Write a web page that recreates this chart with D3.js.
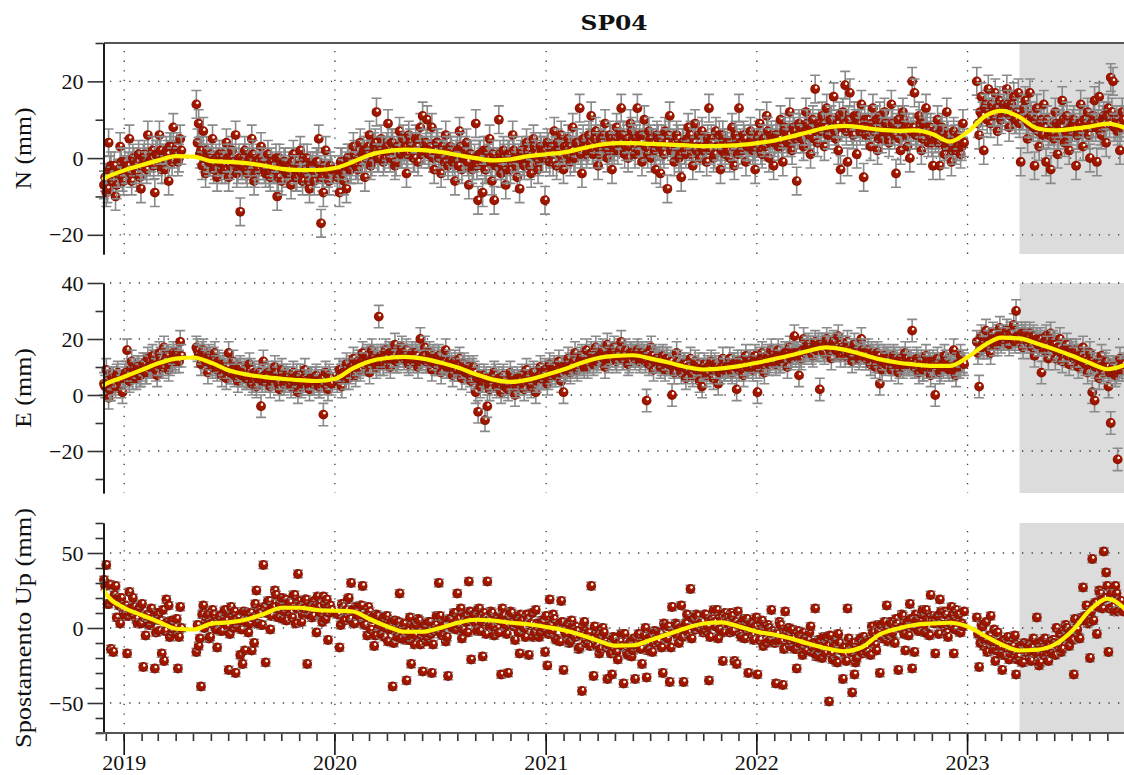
<!DOCTYPE html>
<html>
<head>
<meta charset="utf-8">
<script src="https://cdn.jsdelivr.net/npm/d3@7"></script>
<style>
  html, body { margin: 0; padding: 0; background: #ffffff; }
  svg { display: block; }
</style>
</head>
<body>
<svg id="chart" width="1124" height="775"></svg>
<script>
// ---------------- data ----------------
const title = "SP04";
const xDomain = ["2018-11-27", "2023-09-29"];
const shadeStart = "2023-04-01";
const yearTicks = [2019, 2020, 2021, 2022, 2023];
const sampleStartA = "2018-11-27";   // series A: days 0, 4, 8, ...
const sampleStartB = "2018-11-29";   // series B: days 2, 6, 10, ...
const sampleStepDays = 4;            // null = no data

const sigmaN = 3.6, sigmaE = 4.0, sigmaU = 2.5;

const yDomainN = [-25, 30], majorTicksN = [-20, 0, 20], minorTicksN = [-10, 10, 30];
const yDomainE = [-35, 40], majorTicksE = [-20, 0, 20, 40], minorTicksE = [-30, -10, 10, 30];
const yDomainU = [-70, 70], majorTicksU = [-50, 0, 50], minorTicksU = [-70, -60, -40, -30, -20, -10, 10, 20, 30, 40, 60, 70];

const valuesN = [
  -7, -9, 4, -2, -6, -10, -4, 3, -5, -1,
  -3, 5, -6, -1, -4, 1, -8, 0, -2, 6,
  -1, 2, -9, 1, 6, -3, 0, 2, -6, 3,
  8, 2, -1, 5, null, null, null, null, null, null,
  14, 9, 2, 7, -4, 0, -1, 5, -2, -5,
  1, -3, -2, 4, -5, 0, -1, 6, -3, -14,
  -2, 2, -4, 0, 5, -6, -1, -3, 3, -2,
  -4, 1, -5, -2, -3, -10, 0, -6, -1, -4,
  -2, -7, 1, -5, -3, 2, -6, -4, 0, -8,
  -3, -6, -1, 5, -17, -9, 2, -4, -2, null,
  null, -5, -9, -1, -6, -8, 0, -3, 3, -2,
  -3, 4, 1, -5, 2, 6, -1, 3, 12, 0,
  5, -1, 2, 9, 0, 4, -2, 3, 7, 1,
  2, -4, 6, 3, 0, 5, -1, 8, 11, 2,
  10, 1, 8, -3, 4, 0, -4, 2, 6, -2,
  3, -1, -6, 2, 7, -3, 0, 4, -7, 1,
  -2, 9, -11, 1, -9, -3, 2, 5, -6, -11,
  -1, 10, -4, 2, -7, 1, -3, 6, 0, -5,
  -8, 2, -2, 4, 0, -4, 5, 1, -3, 3,
  0, -11, 4, -1, 3, 7, -2, 2, 6, -3,
  2, 5, -1, 8, 0, 4, 13, -4, 3, 1,
  6, 11, 1, 7, -2, 5, 3, 9, 0, 6,
  -3, 2, 8, 4, 13, 6, 3, 0, 9, 5,
  1, 13, 6, -1, 10, 3, 7, 0, 4, -3,
  5, -4, 2, 7, -8, 11, 3, -1, 6, 0,
  -5, 4, 1, 8, 6, -2, 9, 3, 0, 7,
  2, -1, 13, 5, 0, 7, 3, -3, 6, 1,
  4, 0, 8, -2, 5, 13, 2, 6, -1, 3,
  7, 2, -3, 5, 9, 1, 4, 11, 0, 6,
  -2, 6, 3, 10, -1, 8, 4, 12, 2, 7,
  -6, 9, 5, 3, 12, 7, 1, 10, 18, 4,
  8, 11, 3, 13, 6, 10, 16, 5, 2, -3,
  12, 19, -1, 17, 7, 11, 1, 9, 14, -5,
  6, 10, 3, 13, 8, 2, 11, 5, 12, 9,
  4, 14, 7, -4, 10, 2, 12, 8, 3, 0,
  20, 17, 6, 11, 2, 9, 13, 4, 8, -2,
  5, 10, -2, 8, 1, 12, 4, -1, 7, 2,
  6, 1, 9, null, null, null, null, null, 20, 6,
  16, 2, 14, 18, 9, 12, 17, 7, 15, 11,
  13, 18, 8, 14, 16, 10, 17, -1, 11, 15,
  5, 17, 9, -2, 13, 3, 10, 14, -1, 6,
  -3, 8, 12, 1, 9, 15, 4, 11, 2, 7,
  10, -2, 6, 14, 3, 9, 12, 0, 8, 15,
  -1, 16, 6, 11, 4, 13, 21, 20, 8, 7,
  2, 12
];
const valuesNmid = [
  -5, -8, -3, -6, -2, -7, -4, -1, -6, -3,
  -2, -4, 0, -3, -1, -5, -2, 1, -3, -1,
  0, -2, 1, -1, 2, 0, -3, 1, 3, -1,
  1, 3, 0, 2, null, null, null, null, null, null,
  4, 1, -2, 0, 2, -1, 1, -3, 0, -1,
  -1, 1, -3, 0, -2, 2, -1, -4, 0, -2,
  0, -3, -1, -2, 1, -4, -2, 0, -1, -3,
  -2, -4, -1, -3, 0, -5, -2, -3, -1, -4,
  -4, -1, -3, -5, -2, -4, 0, -3, -6, -2,
  -2, -4, -1, -3, -5, -2, -4, -6, -3, null,
  null, -3, -1, -4, -2, 0, -3, -1, 1, -2,
  0, -1, 2, 0, 3, -2, 1, 4, 0, 2,
  2, 0, 3, 1, 4, 2, -1, 3, 1, 5,
  3, 1, 4, 2, 0, 3, 5, 1, 2, 4,
  1, 3, 0, 2, 4, 1, 3, -1, 2, 0,
  2, 0, 1, -2, 3, 0, 2, -1, 1, -3,
  0, -2, 1, -1, 2, -3, 0, -1, 1, -2,
  -1, 1, -2, 0, -3, 1, -1, 2, -2, 0,
  1, -1, 0, 2, -2, 1, 3, 0, -1, 2,
  2, 0, 3, 1, -1, 2, 4, 1, 0, 3,
  1, 3, 2, 0, 4, 2, 1, 5, 3, 2,
  4, 2, 5, 3, 1, 4, 6, 3, 2, 5,
  3, 5, 2, 6, 4, 1, 5, 3, 7, 4,
  5, 2, 4, 6, 3, 1, 5, 4, 2, 6,
  3, 5, 1, 4, 6, 2, 4, 3, 5, 1,
  4, 2, 5, 3, 1, 4, 2, 6, 3, 2,
  3, 5, 2, 4, 1, 3, 6, 2, 4, 3,
  2, 4, 3, 6, 1, 4, 2, 5, 3, 4,
  5, 3, 4, 6, 2, 5, 3, 7, 4, 5,
  4, 6, 5, 3, 7, 5, 6, 4, 8, 5,
  6, 8, 5, 7, 9, 6, 8, 5, 7, 9,
  7, 9, 8, 6, 10, 8, 7, 9, 11, 8,
  9, 7, 10, 8, 6, 9, 11, 7, 8, 10,
  8, 6, 9, 7, 10, 5, 8, 7, 9, 6,
  7, 9, 6, 8, 5, 7, 10, 6, 8, 7,
  8, 6, 7, 9, 5, 7, 8, 6, 4, 7,
  6, 4, 7, 5, 3, 6, 4, 2, 5, 3,
  5, 3, 4, null, null, null, null, null, 9, 12,
  11, 13, 10, 12, 14, 11, 13, 12, 10, 14,
  12, 14, 11, 13, 10, 12, 9, 11, 13, 10,
  9, 11, 8, 10, 7, 9, 6, 8, 10, 7,
  7, 5, 9, 6, 8, 10, 7, 5, 8, 9,
  8, 6, 9, 7, 10, 8, 6, 9, 11, 8,
  9, 7, 10, 8, 11, 9, 12, 8, 10, 9,
  8, 10
];

const valuesE = [
  4, 9, -1, 2, 6, 3, 8, 5, 1, 7,
  16, 5, 12, 9, 6, 10, 7, 11, 8, 13,
  10, 14, 12, 7, 15, 11, 17, 13, 9, 12,
  15, 12, 14, 19, null, null, null, null, null, null,
  17, 14, 11, 16, 12, 8, 13, 10, 15, 9,
  11, 7, 10, 6, 15, 8, 12, 9, 5, 10,
  7, 9, 6, 11, 4, 8, 3, 7, -4, 12,
  5, 8, 3, 7, 10, 6, 2, 9, 4, 7,
  6, 3, 8, 5, 1, 7, 4, 9, 5, 2,
  6, 4, 7, 3, 5, -7, 8, 2, 6, null,
  null, 5, 9, 3, 8, 11, 6, 10, 13, 7,
  12, 9, 15, 11, 14, 8, 16, 13, 10, 28,
  14, 11, 16, 13, 10, 15, 18, 12, 14, 17,
  13, 16, 11, 14, 12, 15, 10, 20, 13, 17,
  12, 15, 9, 13, 11, 14, 8, 12, 16, 10,
  10, 7, 12, 9, 13, 6, 11, 8, 10, 5,
  10, 1, -6, 3, 5, -9, -4, 2, 5, 8,
  3, 6, 1, 7, 4, 2, 8, 5, 0, 6,
  4, 7, 2, 9, 5, 3, 8, 1, 6, 10,
  6, 9, 4, 11, 7, 10, 8, 12, 5, 1,
  10, 13, 8, 11, 15, 9, 12, 14, 10, 16,
  12, 15, 11, 17, 13, 14, 16, 10, 18, 13,
  14, 17, 12, 15, 19, 13, 16, 11, 15, 14,
  13, 16, 12, 15, 14, -2, 11, 17, 9, 13,
  12, 10, 14, 9, 13, 11, 0, 8, 15, 10,
  8, 11, 6, 10, 13, 7, 12, 9, 5, 3,
  11, 7, 9, 12, 6, 10, 4, 8, 13, 9,
  10, 13, 8, 11, 2, 9, 12, 7, 14, 10,
  12, 9, 14, 1, 10, 15, 8, 13, 11, 16,
  14, 11, 16, 12, 13, 15, 10, 17, 14, 21,
  15, 7, 13, 20, 16, 18, 17, 14, 19, 16,
  2, 18, 15, 20, 17, 13, 19, 16, 21, 14,
  17, 14, 19, 15, 12, 18, 16, 13, 20, 15,
  13, 16, 11, 14, 10, 15, 4, 9, 14, 13,
  12, 9, 14, 11, 8, 13, 10, 15, 11, 12,
  23, 10, 13, 8, 12, 9, 14, 11, 7, 12,
  0, 13, 8, 11, 14, 12, 9, 10, 16, 7,
  10, 14, 12, null, null, null, null, null, 19, 3,
  21, 17, 23, 19, 15, 22, 20, 18, 24, 21,
  20, 23, 18, 22, 25, 30, 21, 19, 17, 22,
  19, 22, 17, 14, 20, 18, 8, 16, 21, 13,
  22, 19, 13, 17, 20, 12, 15, 18, 11, 16,
  13, 16, 10, 14, 17, 11, 8, 15, 1, -2,
  11, 6, 14, 8, 12, 3, -10, 10, 7, -23,
  13, 9
];
const valuesEmid = [
  3, 5, 2, 6, 4, 7, 5, 3, 6, 8,
  7, 9, 6, 8, 10, 7, 9, 11, 8, 10,
  10, 12, 9, 11, 13, 10, 12, 14, 11, 13,
  13, 15, 12, 14, null, null, null, null, null, null,
  16, 14, 15, 13, 12, 14, 11, 13, 10, 12,
  10, 11, 9, 10, 8, 9, 7, 8, 9, 7,
  8, 6, 7, 9, 5, 7, 6, 8, 5, 7,
  6, 7, 5, 6, 8, 4, 6, 7, 5, 6,
  5, 6, 4, 7, 5, 3, 6, 5, 4, 6,
  4, 6, 5, 3, 6, 4, 5, 7, 4, null,
  null, 6, 7, 8, 6, 9, 8, 10, 9, 11,
  10, 12, 11, 13, 11, 12, 14, 12, 13, 11,
  13, 14, 12, 15, 13, 14, 12, 13, 15, 14,
  14, 12, 13, 15, 13, 14, 12, 13, 14, 12,
  13, 12, 14, 11, 13, 12, 11, 12, 10, 12,
  11, 9, 10, 11, 9, 10, 8, 9, 7, 9,
  8, 6, 7, 5, 7, 6, 4, 6, 5, 7,
  5, 4, 6, 3, 5, 4, 6, 5, 3, 5,
  5, 4, 6, 5, 7, 4, 6, 5, 7, 6,
  7, 8, 6, 8, 9, 7, 9, 8, 10, 9,
  9, 11, 10, 12, 10, 11, 13, 11, 12, 10,
  12, 14, 13, 12, 14, 15, 13, 14, 12, 15,
  15, 13, 14, 16, 13, 15, 14, 12, 15, 14,
  14, 15, 13, 14, 12, 15, 13, 14, 12, 13,
  13, 11, 12, 13, 11, 12, 10, 11, 12, 10,
  10, 11, 9, 10, 8, 10, 9, 11, 8, 9,
  9, 10, 8, 9, 11, 9, 8, 10, 9, 10,
  10, 9, 11, 10, 12, 10, 9, 11, 10, 12,
  11, 12, 10, 12, 13, 11, 12, 14, 12, 13,
  13, 14, 12, 14, 13, 15, 14, 13, 15, 14,
  15, 14, 16, 15, 17, 16, 15, 17, 16, 18,
  17, 16, 18, 17, 16, 18, 17, 16, 18, 17,
  16, 17, 15, 16, 14, 16, 15, 14, 16, 15,
  14, 13, 15, 13, 12, 14, 12, 13, 11, 13,
  12, 11, 13, 12, 10, 12, 11, 13, 11, 12,
  11, 10, 12, 11, 9, 11, 10, 12, 10, 11,
  10, 11, 9, 10, 12, 10, 11, 9, 10, 11,
  10, 12, 11, null, null, null, null, null, 15, 17,
  18, 19, 17, 19, 20, 18, 20, 21, 19, 20,
  21, 20, 22, 20, 19, 21, 20, 22, 21, 20,
  20, 19, 21, 19, 18, 20, 18, 19, 17, 18,
  17, 18, 16, 17, 15, 16, 15, 14, 16, 15,
  14, 13, 14, 12, 13, 12, 11, 12, 11, 10,
  11, 10, 9, 11, 10, 8, 9, 10, 8, 9,
  10, 11
];

const valuesU = [
  32, 42, 16, -14, -16, 28, 20, 3, 14, 8,
  -17, 24, 10, 14, 6, 12, 3, -26, -5, 9,
  2, 5, -27, 10, -2, -17, -22, 19, 15, 3,
  -3, 1, -27, 14, null, null, null, null, null, null,
  -16, -12, -39, 15, 4, 9, -6, 12, 1, -13,
  8, -2, 11, 5, -28, 14, 0, -30, 7, -18,
  -24, -15, 10, 3, -15, -10, 25, 12, 2, 42,
  -23, 18, -1, 14, 25, 8, 16, 20, 11, 5,
  17, 10, 22, 3, 36, 15, 9, 19, -24, 12,
  7, 18, -3, 14, 10, 21, 6, -8, 15, null,
  null, 9, -13, 16, 5, 12, 20, 30, 3, 14,
  8, 15, 28, 2, -5, 11, 6, -12, 9, 1,
  -4, 7, 0, -9, 2, -39, 5, -6, 23, -1,
  3, -35, -8, -24, 1, -5, 6, -11, -29, 2,
  -6, 4, -30, -2, 8, 30, -4, 3, -9, -32,
  6, 0, 10, 23, 2, -7, 8, 4, 31, -21,
  9, 3, 12, -2, -19, 7, 31, 1, 10, -5,
  6, -3, -31, 8, 2, -30, 11, 4, -8, 7,
  -17, 5, 0, 9, -18, 3, -6, 12, 1, -3,
  4, -16, -25, 19, -2, 6, -8, 2, 18, -28,
  -4, 3, -9, 1, -6, -2, -13, -42, 4, -8,
  -3, 28, -32, -11, -5, -14, 0, -9, -34, -12,
  -31, -7, -16, -10, -4, -37, -13, -18, -9, -15,
  -34, -8, -12, -24, -5, -33, -14, -6, -10, -3,
  -9, -4, -30, 1, -7, -36, 14, -3, 2, -10,
  15, -36, 3, -4, 26, 6, -1, 8, 0, 4,
  9, -2, -35, 5, 12, 1, -7, 7, -22, 10,
  4, -3, 8, -22, -24, 2, -6, 6, -1, -30,
  3, -5, 1, -31, -8, 5, -2, -10, 0, 12,
  -4, -37, -9, 2, -38, 11, -7, -12, -1, -14,
  -27, -5, -11, -3, -15, -8, 1, -13, 13, -18,
  -9, -20, -14, -6, -49, -17, -11, -22, -4, -15,
  -34, -18, 13, -12, -43, -31, -20, -9, -16, -6,
  -14, -8, -18, -3, -11, 2, -30, -7, 4, 15,
  -5, 3, -9, 6, -28, 0, 8, -15, 4, 16,
  -27, -16, 5, -2, 9, 1, 12, -4, 22, 6,
  -17, 8, 19, 2, 11, -3, 6, 14, -17, 12,
  9, -3, 1, null, null, null, null, null, 7, -26,
  2, -12, 4, -8, 8, -15, -22, -3, -13, -28,
  -18, -10, -21, -14, -7, -31, -19, -12, -23, -16,
  -11, -20, -13, -17, 7, -25, -9, -18, -14, -22,
  -15, -8, -18, -11, -4, -14, -7, 0, -12, -2,
  -31, 0, -6, 5, 27, 8, 3, -20, 46, 16,
  -4, 25, 19, 51, 37, -16, 22, 14, 28, 11,
  17, 12
];
const valuesUmid = [
  28, 16, 29, 18, 22, 7, 15, 20, 10, 15,
  8, 13, 20, 8, 3, 14, 16, 7, 8, 2,
  13, 5, -3, 9, 5, 12, -2, 4, -6, 5,
  -1, 6, -6, 0, null, null, null, null, null, null,
  2, -7, 9, 0, 7, -7, 3, 9, -1, 5,
  -2, 4, 12, 1, -4, 8, 11, 2, 4, -1,
  11, 4, -3, 10, 7, 16, 3, 10, 2, 14,
  10, 18, 8, 14, 22, 7, 16, 6, 19, 14,
  17, 7, 22, 13, 18, 4, 13, 19, 9, 15,
  8, 14, 21, 9, 4, 16, 19, 10, 12, null,
  null, 9, 2, 14, 11, 19, 6, 12, 3, 13,
  8, 15, 3, 8, 14, -1, 7, -5, 8, 2,
  5, -6, 8, -1, 4, -10, -2, 4, -7, 0,
  -8, -2, 7, -6, -11, 2, 5, -5, -3, -9,
  4, -4, -11, 2, -1, 8, -5, 2, -6, 6,
  1, 10, -1, 6, 13, -1, 8, -3, 11, 6,
  9, -2, 13, 4, 10, -4, 5, 11, 1, 7,
  0, 5, 13, 1, -4, 8, 10, 1, 3, -3,
  9, 1, -6, 6, 2, 10, -3, 3, -6, 5,
  0, 8, -4, 2, 9, -7, 2, -9, 4, -2,
  1, -10, 5, -5, 1, -14, -5, 1, -10, -5,
  -12, -7, 1, -12, -17, -6, -3, -13, -11, -17,
  -6, -14, -21, -9, -12, -4, -17, -11, -19, -7,
  -12, -4, -14, -8, 0, -15, -5, -16, -2, -7,
  -3, -13, 3, -6, 1, -13, -3, 3, -6, 0,
  -6, 1, 9, -3, -7, 6, 9, 0, 3, -3,
  9, 1, -6, 6, 4, 12, -1, 5, -3, 7,
  2, 10, -2, 4, 11, -4, 4, -7, 6, 0,
  3, -8, 7, -3, 3, -12, -3, 2, -8, -2,
  -10, -4, 4, -9, -14, -2, 0, -9, -7, -14,
  -2, -11, -18, -7, -10, -3, -16, -10, -19, -8,
  -14, -6, -17, -12, -5, -21, -12, -23, -10, -15,
  -13, -22, -7, -16, -10, -23, -14, -7, -17, -10,
  -16, -9, 1, -11, -15, -2, 2, -6, -3, -9,
  4, -3, -10, 3, 0, 9, -4, 2, -5, 6,
  1, 9, -2, 5, 12, -3, 6, -5, 8, 3,
  6, -4, 11, 2, 9, -6, 3, 9, -1, 5,
  -3, 3, 11, null, null, null, null, null, -4, -10,
  1, -8, -16, -5, -9, -1, -15, -10, -18, -8,
  -13, -6, -17, -12, -5, -21, -12, -23, -10, -15,
  -12, -22, -7, -16, -10, -23, -14, -7, -17, -10,
  -17, -10, 0, -12, -16, -2, 2, -6, -3, -8,
  6, -1, -7, 7, 6, 15, 4, 11, 5, 17,
  14, 23, 13, 20, 28, 13, 23, 11, 23, 17,
  18, 11
];

// smooth model curve: knots at 2018-11-27, first of each month Dec 2018 .. Sep 2023, 2023-09-29
const trendN = [
  -5.3, -5.0,
  -3.2, -1.8, -0.6, 0.5, 0.4, -0.8, -1.0, -1.3, -2.0, -2.8, -3.1, -3.1,
  -2.6, -1.0, 0.8, 1.8, 2.2, 2.1, 1.6, 0.8, 0.0, -0.6, -0.3, 0.5,
  1.0, 1.5, 2.4, 3.4, 3.9, 3.9, 3.7, 3.5, 3.3, 3.1, 3.2, 3.4,
  3.9, 4.6, 5.6, 6.8, 7.9, 8.4, 8.0, 7.4, 7.1, 7.2, 6.3, 4.3,
  6.8, 11.0, 12.3, 10.7, 7.8, 7.2, 7.6, 8.2, 9.0,
  8.0
];
const trendE = [
  3.5, 4.0,
  6.5, 9.0, 11.3, 13.0, 13.4, 11.5, 8.8, 7.3, 6.4, 5.8, 5.3, 5.0,
  5.8, 9.5, 12.0, 13.2, 13.6, 13.0, 11.6, 9.8, 7.4, 5.5, 4.7, 5.5,
  7.2, 9.2, 11.3, 13.2, 14.0, 14.2, 13.0, 11.6, 10.0, 9.1, 9.5, 10.3,
  11.5, 12.9, 14.2, 15.8, 17.0, 16.2, 14.6, 12.8, 11.6, 10.9, 10.4, 10.4,
  13.5, 18.0, 20.5, 20.2, 18.4, 16.3, 14.0, 11.4, 9.2,
  10.6
];
const trendU = [
  25, 22.5,
  13.5, 8.5, 4.2, -0.5, -1.0, 2.9, 3.8, 5.7, 9.5, 13.5, 13.5, 12,
  11.5, 11, 6, 1, -2.5, -2.5, 0, 3.5, 5.5, 5, 3.5, 2.5,
  0.7, -1.5, -4.5, -8.5, -11.8, -11.5, -8, -4, 0, 3, 3.7, 1,
  -2.5, -4.5, -7, -10.5, -13.5, -15.5, -13, -4.5, -0.5, 2, 3, 3.5,
  1, -5.5, -11, -15, -14.5, -11, -2, 12, 19.5,
  13.3
];

// ---------------- chart ----------------
const svg = d3.select("#chart");
const parse = d3.utcParse("%Y-%m-%d");
const DAY = 864e5;
const x = d3.scaleUtc().domain(xDomain.map(parse)).range([104, 1124]);
const plotLeft = 104, plotRight = 1124;

const trendDates = [parse("2018-11-27")]
  .concat(d3.utcMonth.range(new Date(Date.UTC(2018, 11, 1)), new Date(Date.UTC(2023, 9, 1))))
  .concat([parse("2023-09-29")]);

const nSamples = 442;
[valuesN, valuesNmid, valuesE, valuesEmid, valuesU, valuesUmid].forEach((a, k) => {
  if (a.length !== nSamples) throw new Error("values length " + k + " = " + a.length + " expected " + nSamples);
});
[trendN, trendE, trendU].forEach((a, k) => {
  if (a.length !== trendDates.length) throw new Error("trend length " + k + " = " + a.length + " expected " + trendDates.length);
});

const defs = svg.append("defs");
const grad = defs.append("radialGradient").attr("id", "ball")
  .attr("cx", "0.5").attr("cy", "0.5").attr("r", "0.5")
  .attr("fx", "0.64").attr("fy", "0.28");
grad.append("stop").attr("offset", "0").attr("stop-color", "#ffffff");
grad.append("stop").attr("offset", "0.2").attr("stop-color", "#fdf1ee");
grad.append("stop").attr("offset", "0.34").attr("stop-color", "#a81a02");
grad.append("stop").attr("offset", "0.85").attr("stop-color", "#951500");
grad.append("stop").attr("offset", "1").attr("stop-color", "#820f00");

const serif = "'Liberation Serif', 'Times New Roman', serif";
const fmt = d3.format("d");

const panels = [
  { label: "N (mm)", labelLen: 82, series: [valuesN, valuesNmid], sigma: sigmaN, trend: trendN,
    domain: yDomainN, major: majorTicksN, minor: minorTicksN, top: 43, bottom: 254, topSpine: true, bottomAxis: false },
  { label: "E (mm)", labelLen: 80, series: [valuesE, valuesEmid], sigma: sigmaE, trend: trendE,
    domain: yDomainE, major: majorTicksE, minor: minorTicksE, top: 283, bottom: 493, topSpine: false, bottomAxis: false },
  { label: "Spostamento Up (mm)", labelLen: 240, series: [valuesU, valuesUmid], sigma: sigmaU, trend: trendU,
    domain: yDomainU, major: majorTicksU, minor: minorTicksU, top: 523, bottom: 733, topSpine: false, bottomAxis: true }
];

const startA = parse(sampleStartA).getTime();
const startB = parse(sampleStartB).getTime();

panels.forEach(p => {
  const y = d3.scaleLinear().domain(p.domain).range([p.bottom, p.top]);
  const g = svg.append("g");

  // shaded period
  g.append("rect")
    .attr("x", x(parse(shadeStart))).attr("y", p.top)
    .attr("width", plotRight - x(parse(shadeStart))).attr("height", p.bottom - p.top)
    .attr("fill", "#dcdcdc");

  // dotted grid
  const grid = g.append("g").attr("stroke", "#3a3a3a").attr("stroke-width", 1.3)
    .attr("stroke-dasharray", "1.3 8.3").attr("fill", "none");
  p.major.forEach(t => {
    grid.append("line").attr("x1", plotLeft + 6).attr("x2", plotRight)
      .attr("y1", y(t)).attr("y2", y(t));
  });
  yearTicks.forEach(yr => {
    const xx = x(new Date(Date.UTC(yr, 0, 1)));
    grid.append("line").attr("x1", xx).attr("x2", xx)
      .attr("y1", p.top + 8).attr("y2", p.bottom);
  });

  // observations (two interleaved sample sets merged in time order)
  const [sa, sb] = p.series;
  const pts = [];
  for (let i = 0; i < nSamples; i++) {
    if (sa[i] !== null) pts.push({ date: new Date(startA + i * sampleStepDays * DAY), v: sa[i] });
    if (sb[i] !== null) pts.push({ date: new Date(startB + i * sampleStepDays * DAY), v: sb[i] });
  }
  const marks = g.append("g");
  const pg = marks.selectAll("g.pt").data(pts).join("g").attr("class", "pt");
  pg.append("path")
    .attr("d", d => {
      const xx = x(d.date), y1 = y(d.v - p.sigma), y2 = y(d.v + p.sigma);
      return `M${xx},${y1}V${y2}M${xx - 5},${y1}H${xx + 5}M${xx - 5},${y2}H${xx + 5}`;
    })
    .attr("stroke", "#8a8a8a").attr("stroke-width", 1.6).attr("fill", "none");
  pg.append("circle")
    .attr("cx", d => x(d.date)).attr("cy", d => y(d.v)).attr("r", 4.9)
    .attr("fill", "url(#ball)");

  // smooth model
  const line = d3.line().x((d, i) => x(trendDates[i])).y(d => y(d)).curve(d3.curveMonotoneX);
  g.append("path").datum(p.trend).attr("d", line)
    .attr("fill", "none").attr("stroke", "#fff200").attr("stroke-width", 4.2)
    .attr("stroke-linejoin", "round").attr("stroke-linecap", "round");

  // spines
  if (p.topSpine) {
    g.append("line").attr("x1", plotLeft).attr("x2", plotRight).attr("y1", p.top).attr("y2", p.top)
      .attr("stroke", "#555").attr("stroke-width", 2);
  }

  // y axis
  const axMinor = d3.axisLeft(y).tickValues(p.minor).tickSize(8).tickFormat("").tickSizeOuter(0);
  const axMajor = d3.axisLeft(y).tickValues(p.major).tickSize(16).tickPadding(4).tickFormat(fmt).tickSizeOuter(0);
  const gMin = g.append("g").attr("transform", `translate(${plotLeft - 0.5},0)`).call(axMinor);
  const gMaj = g.append("g").attr("transform", `translate(${plotLeft - 0.5},0)`).call(axMajor);
  [gMin, gMaj].forEach(a => {
    a.select(".domain").attr("stroke", "#111").attr("stroke-width", 1.6);
    a.selectAll(".tick line").attr("stroke", "#333").attr("stroke-width", 1.6);
  });
  gMaj.selectAll(".tick text").attr("font-family", serif).attr("font-size", 22).attr("fill", "#111");

  // y label
  g.append("text")
    .attr("transform", `translate(23,${(p.top + p.bottom) / 2}) rotate(-90)`)
    .attr("text-anchor", "middle").attr("dy", "0.33em")
    .attr("font-family", serif).attr("font-size", 23).attr("fill", "#111")
    .attr("textLength", p.labelLen).attr("lengthAdjust", "spacingAndGlyphs")
    .text(p.label);

  // x axis
  if (p.bottomAxis) {
    const months = d3.utcMonth.range(new Date(Date.UTC(2018, 11, 1)), new Date(Date.UTC(2023, 9, 1)));
    const ax = g.append("g");
    ax.selectAll("line.m").data(months).join("line").attr("class", "m")
      .attr("x1", d => x(d)).attr("x2", d => x(d)).attr("y1", p.bottom).attr("y2", p.bottom + 8)
      .attr("stroke", "#333").attr("stroke-width", 1.6);
    const yrs = yearTicks.map(yr => new Date(Date.UTC(yr, 0, 1)));
    ax.selectAll("line.y").data(yrs).join("line").attr("class", "y")
      .attr("x1", d => x(d)).attr("x2", d => x(d)).attr("y1", p.bottom).attr("y2", p.bottom + 22)
      .attr("stroke", "#111").attr("stroke-width", 1.6);
    ax.append("line").attr("x1", plotLeft - 8).attr("x2", plotRight)
      .attr("y1", p.bottom).attr("y2", p.bottom).attr("stroke", "#555").attr("stroke-width", 2);
    ax.selectAll("text").data(yrs).join("text")
      .attr("x", d => x(d)).attr("y", 769.5).attr("text-anchor", "middle")
      .attr("font-family", serif).attr("font-size", 22).attr("fill", "#111")
      .text(d => d.getUTCFullYear());
  }
});

// title
svg.append("text")
  .attr("x", (plotLeft + plotRight) / 2).attr("y", 30).attr("text-anchor", "middle")
  .attr("font-family", "'DejaVu Serif', serif").attr("font-weight", "bold").attr("font-size", 21)
  .attr("textLength", 67).attr("lengthAdjust", "spacingAndGlyphs")
  .attr("fill", "#111")
  .text(title);
</script>
</body>
</html>
